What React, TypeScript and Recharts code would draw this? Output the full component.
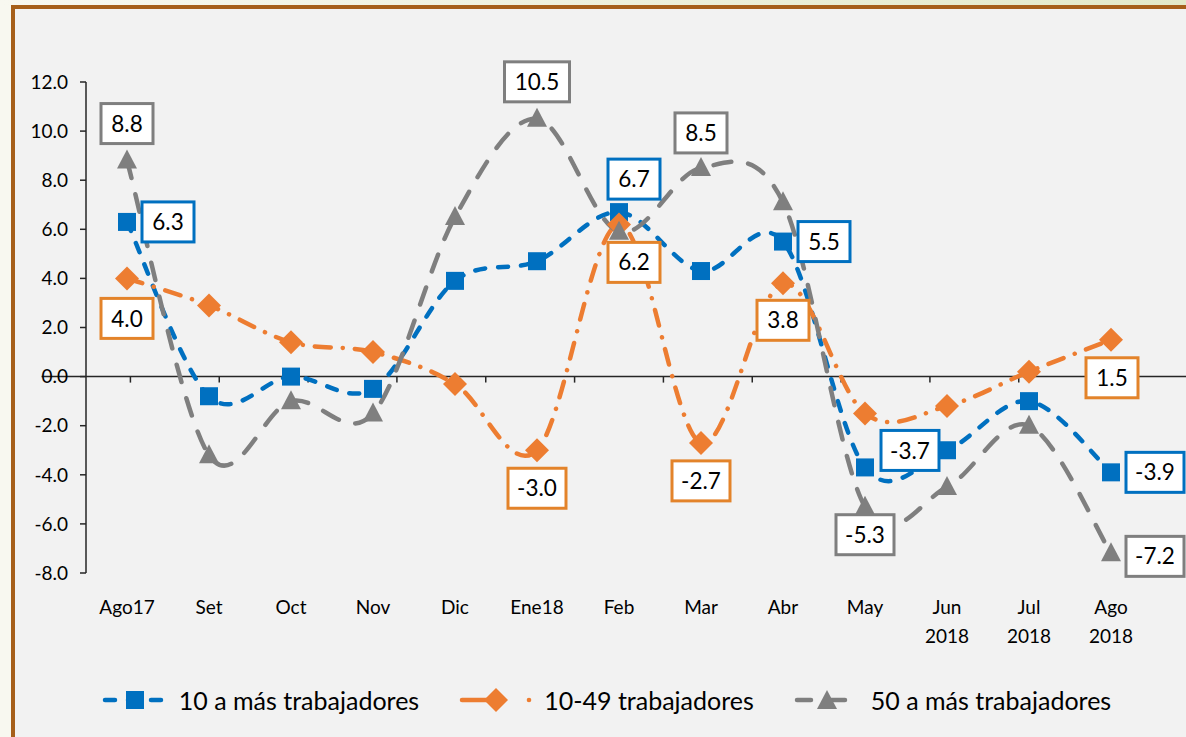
import React from 'react';
import { LineChart, Line, XAxis, YAxis, ReferenceLine, LabelList, Legend } from 'recharts';

const MONTHS = ['Ago17', 'Set', 'Oct', 'Nov', 'Dic', 'Ene18', 'Feb', 'Mar', 'Abr', 'May', 'Jun\n2018', 'Jul\n2018', 'Ago\n2018'];
const TEN_PLUS   = [6.3, -0.8, 0.0, -0.5, 3.9, 4.7, 6.7, 4.3, 5.5, -3.7, -3.0, -1.0, -3.9];
const TEN_TO_49  = [4.0, 2.9, 1.4, 1.0, -0.3, -3.0, 6.2, -2.7, 3.8, -1.5, -1.2, 0.2, 1.5];
const FIFTY_PLUS = [8.8, -3.2, -1.0, -1.5, 6.5, 10.5, 5.9, 8.5, 7.1, -5.3, -4.5, -2.0, -7.2];
const Y_TICKS = [-8, -6, -4, -2, 0, 2, 4, 6, 8, 10, 12];
const NAMES = ['10 a más trabajadores', '10-49 trabajadores', '50 a más trabajadores'];

const data = MONTHS.map((month, i) => ({
  month,
  tenPlus: TEN_PLUS[i],
  tenTo49: TEN_TO_49[i],
  fiftyPlus: FIFTY_PLUS[i],
}));

const BLUE   = '#0070C0';
const ORANGE = '#ED7D31';
const GRAY   = '#7F7F7F';
const FONT   = 'Lato, "Open Sans", sans-serif';

// which points get a boxed label, and where the box sits relative to the point
const BLUE_LABELS:   Record<number, [number, number]> = { 0: [41, 0], 6: [15, -33], 8: [41, 0], 9: [45, -17], 12: [44, 0] };
const ORANGE_LABELS: Record<number, [number, number]> = { 0: [0, 40], 5: [0, 38], 6: [15, 38], 7: [0, 38], 8: [0, 37], 12: [1, 38] };
const GRAY_LABELS:   Record<number, [number, number]> = { 0: [0, -37], 5: [0, -37], 7: [0, -35], 9: [0, 28], 12: [44, 3] };

// Excel-like smoothed line (catmull-rom through the points)
const smooth = (ctx: any) => {
  let pts: number[][] = [];
  return {
    areaStart() {},
    areaEnd() {},
    lineStart() { pts = []; },
    point(x: number, y: number) { pts.push([+x, +y]); },
    lineEnd() {
      if (!pts.length) return;
      ctx.moveTo(pts[0][0], pts[0][1]);
      for (let i = 0; i < pts.length - 1; i++) {
        const p0 = pts[Math.max(i - 1, 0)];
        const p1 = pts[i];
        const p2 = pts[i + 1];
        const p3 = pts[Math.min(i + 2, pts.length - 1)];
        ctx.bezierCurveTo(
          p1[0] + (p2[0] - p0[0]) / 6, p1[1] + (p2[1] - p0[1]) / 6,
          p2[0] - (p3[0] - p1[0]) / 6, p2[1] - (p3[1] - p1[1]) / 6,
          p2[0], p2[1],
        );
      }
    },
  };
};

const charW = (t: string) => t.split('').reduce((s, c) => s + (c === '.' || c === '-' ? 6 : 13), 0);

function boxLabel(color: string, spots: Record<number, [number, number]>) {
  return (props: any) => {
    const { x, y, value, index } = props;
    const off = spots[index];
    if (!off || x == null) return null;
    const text = Number(value).toFixed(1);
    const w = charW(text) + 20;
    const cx = x + off[0];
    const cy = y + off[1];
    return (
      <g key={`lbl-${index}`}>
        <rect x={cx - w / 2} y={cy - 20} width={w} height={40} fill="#fff" stroke={color} strokeWidth={3} />
        <text x={cx} y={cy} dy="0.36em" textAnchor="middle" fontSize={22.5} fontFamily={FONT} fill="#000">{text}</text>
      </g>
    );
  };
}

const square = (p: any) => (
  <rect key={`sq-${p.index}`} x={p.cx - 9} y={p.cy - 9} width={18} height={18} fill={BLUE} />
);
const diamond = (p: any) => (
  <path key={`dm-${p.index}`} d={`M${p.cx},${p.cy - 12}L${p.cx + 12},${p.cy}L${p.cx},${p.cy + 12}L${p.cx - 12},${p.cy}Z`} fill={ORANGE} />
);
const triangle = (p: any) => (
  <path key={`tr-${p.index}`} d={`M${p.cx},${p.cy - 11}L${p.cx + 10},${p.cy + 8}L${p.cx - 10},${p.cy + 8}Z`} fill={GRAY} />
);

function MonthTick({ x, y, payload }: any) {
  const lines = String(payload.value).split('\n');
  return (
    <text x={x} y={y + 39} textAnchor="middle" fontSize={19} fontFamily={FONT} fill="#000">
      {lines.map((l, i) => (
        <tspan key={i} x={x} dy={i === 0 ? 0 : 29}>{l}</tspan>
      ))}
    </text>
  );
}

// zero line with tick marks between categories (points sit half a step in from each end)
function ZeroLine({ x1, y1, x2 }: any) {
  const step = (x2 - x1) / (MONTHS.length - 1);
  const left = x1 - step / 2;
  const right = x2 + step / 2;
  return (
    <g>
      <line x1={left} y1={y1} x2={right} y2={y1} stroke="#262626" strokeWidth={1.5} />
      {MONTHS.map((_, i) => (
        <line key={i} x1={left + (i + 1) * step} y1={y1} x2={left + (i + 1) * step} y2={y1 + 6} stroke="#262626" strokeWidth={1.5} />
      ))}
    </g>
  );
}

function LegendIcon({ kind }: { kind: number }) {
  if (kind === 0) {
    return (
      <svg width={68} height={24}>
        <line x1={4} y1={12} x2={64} y2={12} stroke={BLUE} strokeWidth={4.5} strokeDasharray="10 13" strokeLinecap="round" />
        <rect x={25} y={3} width={18} height={18} fill={BLUE} />
      </svg>
    );
  }
  if (kind === 1) {
    return (
      <svg width={76} height={26}>
        <line x1={4} y1={13} x2={40} y2={13} stroke={ORANGE} strokeWidth={4.5} strokeLinecap="round" />
        <path d="M38,1L50,13L38,25L26,13Z" fill={ORANGE} />
        <circle cx={71} cy={13} r={2.3} fill={ORANGE} />
      </svg>
    );
  }
  return (
    <svg width={68} height={24}>
      <line x1={4} y1={12} x2={64} y2={12} stroke={GRAY} strokeWidth={4.5} strokeDasharray="14 20" strokeLinecap="round" />
      <path d="M34,2L44,21L24,21Z" fill={GRAY} />
    </svg>
  );
}

function LegendBox() {
  return (
    <div style={{ display: 'flex', justifyContent: 'center', alignItems: 'center', height: 54, paddingLeft: 34, fontFamily: FONT, fontSize: 25, color: '#000' }}>
      {NAMES.map((name, i) => (
        <div key={name} style={{ display: 'flex', alignItems: 'center', marginRight: i < 2 ? 39 : 0 }}>
          <LegendIcon kind={i} />
          <span style={{ marginLeft: 10 }}>{name}</span>
        </div>
      ))}
    </div>
  );
}

export default function App() {
  return (
    <div style={{ position: 'absolute', left: 0, top: 0, width: 1186, height: 737, overflow: 'hidden', background: '#F8F8F0' }}>
      <div style={{ position: 'absolute', left: 0, top: 0, width: 1186, height: 6, background: 'linear-gradient(90deg, #F8F8F0, #E3E9C9)' }} />
      <div style={{ position: 'absolute', left: 11, top: 5, width: 1200, height: 760, border: '4px solid #A65F1A', background: '#F2F2F2' }} />
      <div style={{ position: 'absolute', left: 0, top: 0 }}>
        <LineChart width={1186} height={737} data={data} margin={{ top: 82, right: 34, left: 26, bottom: 10 }}>
          <XAxis dataKey="month" interval={0} axisLine={false} tickLine={false} tickSize={0} height={100}
                 padding={{ left: 41, right: 41 }} tick={<MonthTick />} />
          <YAxis
            domain={[-8, 12]}
            ticks={Y_TICKS}
            interval={0}
            width={60}
            tickFormatter={(v: number) => v.toFixed(1)}
            axisLine={{ stroke: '#262626', strokeWidth: 1.5 }}
            tickLine={{ stroke: '#262626', strokeWidth: 1.5 }}
            tickSize={6}
            tickMargin={12}
            tick={{ fontSize: 19, fontFamily: FONT, fill: '#000' }}
          />
          <ReferenceLine y={0} shape={<ZeroLine />} />
          <Legend verticalAlign="bottom" content={() => <LegendBox />} />

          <Line type={smooth as any} dataKey="tenPlus" name={NAMES[0]} stroke={BLUE} strokeWidth={4.5}
                strokeDasharray="10 13" strokeLinecap="round" dot={square} activeDot={false} isAnimationActive={false} />
          <Line type={smooth as any} dataKey="tenTo49" name={NAMES[1]} stroke={ORANGE} strokeWidth={4.5}
                strokeDasharray="16 12 0.1 12" strokeLinecap="round" dot={diamond} activeDot={false} isAnimationActive={false} />
          <Line type={smooth as any} dataKey="fiftyPlus" name={NAMES[2]} stroke={GRAY} strokeWidth={4.5}
                strokeDasharray="18 17" strokeLinecap="round" dot={triangle} activeDot={false} isAnimationActive={false} />

          {/* label-only copies so the boxes sit above every line */}
          <Line dataKey="tenPlus" stroke="none" dot={false} activeDot={false} legendType="none" isAnimationActive={false}>
            <LabelList dataKey="tenPlus" content={boxLabel(BLUE, BLUE_LABELS)} />
          </Line>
          <Line dataKey="tenTo49" stroke="none" dot={false} activeDot={false} legendType="none" isAnimationActive={false}>
            <LabelList dataKey="tenTo49" content={boxLabel('#E3832A', ORANGE_LABELS)} />
          </Line>
          <Line dataKey="fiftyPlus" stroke="none" dot={false} activeDot={false} legendType="none" isAnimationActive={false}>
            <LabelList dataKey="fiftyPlus" content={boxLabel(GRAY, GRAY_LABELS)} />
          </Line>
        </LineChart>
      </div>
    </div>
  );
}
